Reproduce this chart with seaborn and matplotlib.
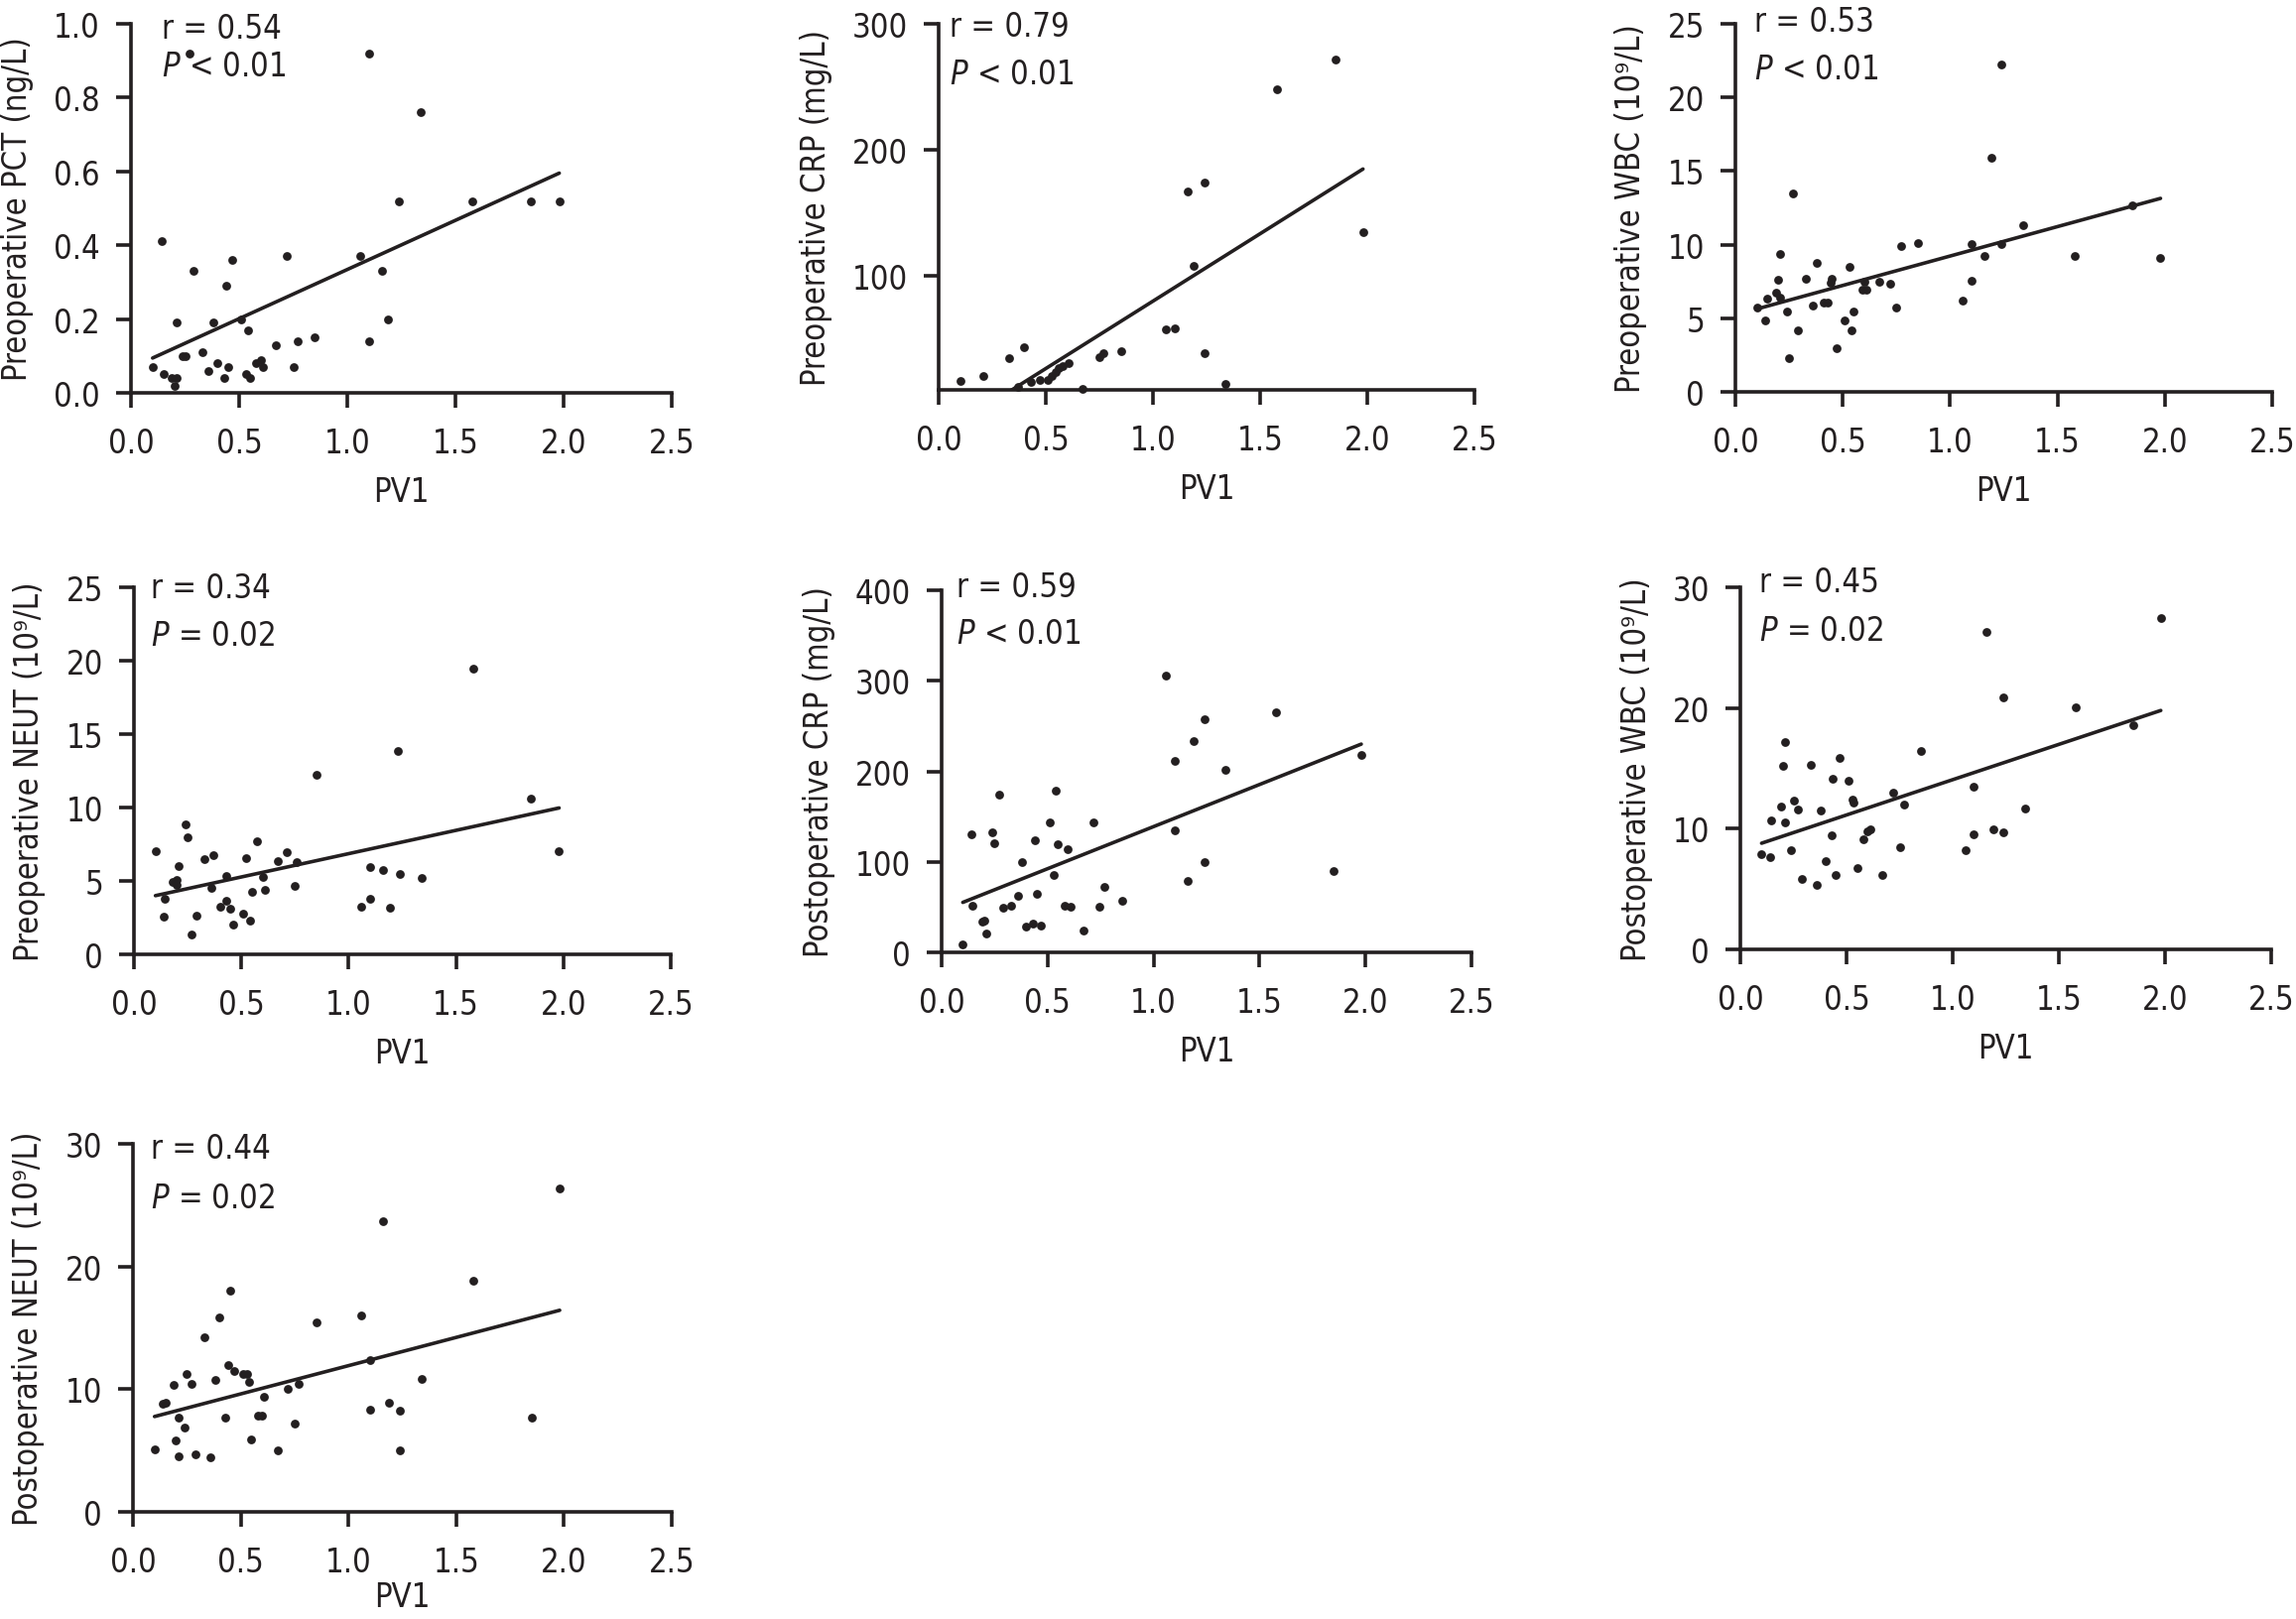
"""
Correlation of PV1 with pre-/postoperative inflammatory markers.
Seven scatter panels, each with its fitted line and r / P annotation.
"""
import matplotlib
matplotlib.use("Agg")  # no display
import matplotlib.pyplot as plt
from matplotlib import font_manager
import numpy as np
import seaborn as sns

# ---- values ----
PCT_PV1 = [0.10, 0.15, 0.14, 0.19, 0.21, 0.20, 0.21, 0.24, 0.25, 0.27, 0.29, 0.33, 0.36, 0.38,
           0.40, 0.43, 0.44, 0.45, 0.47, 0.51, 0.53, 0.54, 0.55, 0.58, 0.60, 0.61, 0.67, 0.72,
           0.75, 0.77, 0.85, 1.06, 1.10, 1.10, 1.16, 1.19, 1.24, 1.34, 1.58, 1.85, 1.98]
PCT_PRE = [0.07, 0.05, 0.41, 0.04, 0.04, 0.02, 0.19, 0.10, 0.10, 0.92, 0.33, 0.11, 0.06, 0.19,
           0.08, 0.04, 0.29, 0.07, 0.36, 0.20, 0.05, 0.17, 0.04, 0.08, 0.09, 0.07, 0.13, 0.37,
           0.07, 0.14, 0.15, 0.37, 0.92, 0.14, 0.33, 0.20, 0.52, 0.76, 0.52, 0.52, 0.52]

CRP_PRE_PV1 = [0.10, 0.21, 0.33, 0.37, 0.40, 0.43, 0.47, 0.51, 0.53, 0.545, 0.56, 0.58, 0.605,
               0.67, 0.75, 0.77, 0.85, 1.06, 1.10, 1.16, 1.19, 1.24, 1.24, 1.34, 1.58, 1.85, 1.98]
CRP_PRE = [17, 21, 35, 12, 44, 16, 18, 18, 21, 24, 27, 29, 31,
           10.5, 36, 39, 41, 58, 59, 167, 108, 174, 39, 15, 248, 272, 135]

WBC_PRE_PV1 = [0.10, 0.14, 0.15, 0.19, 0.20, 0.21, 0.21, 0.24, 0.25, 0.27, 0.29, 0.33, 0.36, 0.38,
               0.41, 0.43, 0.445, 0.45, 0.47, 0.51, 0.53, 0.54, 0.55, 0.59, 0.60, 0.61, 0.67, 0.72,
               0.75, 0.77, 0.85, 1.06, 1.10, 1.10, 1.16, 1.19, 1.24, 1.24, 1.34, 1.58, 1.85, 1.98]
WBC_PRE = [5.75, 4.85, 6.36, 6.74, 7.64, 9.37, 6.40, 5.46, 2.31, 13.48, 4.18, 7.66, 5.89, 8.74,
           6.04, 6.09, 7.42, 7.69, 2.94, 4.83, 8.49, 4.20, 5.46, 6.92, 7.48, 6.92, 7.46, 7.37,
           5.75, 9.91, 10.09, 6.20, 7.53, 10.02, 9.26, 15.87, 22.27, 10.07, 11.35, 9.24, 12.70, 9.08]

NEUT_PRE_PV1 = [0.10, 0.14, 0.145, 0.18, 0.20, 0.20, 0.21, 0.24, 0.25, 0.27, 0.29, 0.33, 0.36, 0.37,
                0.40, 0.43, 0.43, 0.45, 0.46, 0.51, 0.52, 0.54, 0.55, 0.575, 0.60, 0.61, 0.67, 0.71,
                0.75, 0.76, 0.85, 1.06, 1.10, 1.10, 1.16, 1.19, 1.23, 1.24, 1.34, 1.58, 1.85, 1.98]
NEUT_PRE = [7.04, 2.57, 3.76, 4.93, 5.10, 4.76, 6.0, 8.88, 7.99, 1.36, 2.65, 6.48, 4.54, 6.75,
            3.23, 3.62, 5.32, 3.11, 2.01, 2.77, 6.58, 2.28, 4.27, 7.67, 5.24, 4.39, 6.38, 6.97,
            4.64, 6.26, 12.21, 3.23, 5.95, 3.79, 5.75, 3.16, 13.83, 5.49, 5.17, 19.47, 10.58, 7.01]

CRP_POST_PV1 = [0.10, 0.14, 0.145, 0.19, 0.20, 0.21, 0.24, 0.25, 0.27, 0.29, 0.33, 0.36, 0.38, 0.40,
                0.43, 0.44, 0.45, 0.47, 0.51, 0.53, 0.54, 0.55, 0.58, 0.595, 0.61, 0.67, 0.715,
                0.745, 0.77, 0.85, 1.06, 1.10, 1.10, 1.16, 1.19, 1.24, 1.24, 1.34, 1.58, 1.85, 1.98]
CRP_POST = [9, 130, 52, 34, 35, 21, 133, 121, 174, 49, 52, 62, 100, 28,
            32, 124, 65, 30, 144, 85, 179, 119, 52, 114, 50, 24, 144,
            50, 72, 57, 306, 211, 135, 79, 233, 258, 100, 202, 265, 90, 218]

WBC_POST_PV1 = [0.10, 0.14, 0.145, 0.19, 0.20, 0.21, 0.21, 0.24, 0.25, 0.27, 0.29, 0.33, 0.36, 0.38,
                0.40, 0.43, 0.435, 0.45, 0.465, 0.51, 0.53, 0.535, 0.55, 0.58, 0.60, 0.61, 0.67, 0.72,
                0.75, 0.77, 0.85, 1.06, 1.10, 1.10, 1.16, 1.19, 1.24, 1.24, 1.34, 1.58, 1.85, 1.98]
WBC_POST = [7.91, 7.64, 10.68, 11.86, 15.19, 17.2, 10.5, 8.23, 12.36, 11.59, 5.84, 15.28, 5.34, 11.53,
            7.32, 9.44, 14.13, 6.19, 15.84, 13.98, 12.39, 12.15, 6.76, 9.14, 9.76, 9.97, 6.14, 13.0,
            8.47, 11.98, 16.43, 8.26, 9.56, 13.45, 26.28, 9.91, 20.86, 9.71, 11.68, 20.09, 18.58, 27.49]

NEUT_POST_PV1 = [0.10, 0.14, 0.15, 0.19, 0.20, 0.21, 0.21, 0.24, 0.25, 0.27, 0.29, 0.33, 0.36, 0.38,
                 0.40, 0.43, 0.44, 0.45, 0.47, 0.51, 0.53, 0.54, 0.55, 0.58, 0.60, 0.61, 0.67, 0.72,
                 0.75, 0.77, 0.85, 1.06, 1.10, 1.10, 1.16, 1.19, 1.24, 1.24, 1.34, 1.58, 1.85, 1.98]
NEUT_POST = [5.11, 8.85, 8.9, 10.34, 5.86, 7.66, 4.51, 6.91, 11.28, 10.45, 4.73, 14.21, 4.48, 10.75,
             15.81, 7.71, 11.97, 18.0, 11.47, 11.22, 11.22, 10.56, 5.89, 7.85, 7.85, 9.37, 5.03, 10.01,
             7.16, 10.45, 15.43, 16.04, 12.36, 8.29, 23.69, 8.87, 8.24, 4.98, 10.84, 18.83, 7.66, 26.35]

Y_LABELS = ["Preoperative PCT (ng/L)", "Preoperative CRP (mg/L)", "Preoperative WBC (10\u2079/L)",
            "Preoperative NEUT (10\u2079/L)", "Postoperative CRP (mg/L)",
            "Postoperative WBC (10\u2079/L)", "Postoperative NEUT (10\u2079/L)"]
R_VALUES = ["0.54", "0.79", "0.53", "0.34", "0.59", "0.45", "0.44"]
P_VALUES = ["< 0.01", "< 0.01", "< 0.01", "= 0.02", "< 0.01", "= 0.02", "= 0.02"]
Y_TICKS = [[0.0, 0.2, 0.4, 0.6, 0.8, 1.0], [100, 200, 300], [0, 5, 10, 15, 20, 25],
           [0, 5, 10, 15, 20, 25], [0, 100, 200, 300, 400], [0, 10, 20, 30], [0, 10, 20, 30]]
Y_LIMS = [(0, 1.0), (10, 300), (0, 25), (0, 25), (0, 400), (0, 30), (0, 30)]
X_TICKS = [0.0, 0.5, 1.0, 1.5, 2.0, 2.5]
# fitted lines
FIT_INTERCEPT = [0.0677, -26.5, 5.23, 3.68, 45.9, 8.21, 7.31]
FIT_SLOPE = [0.2665, 106.8, 3.996, 3.177, 93.0, 5.85, 4.607]

# ---- layout (pixels on the 2314 x 1633 canvas) ----
W, H = 2314, 1633
AX_BOX = [(132, 25, 677, 397), (946, 25, 1486, 394), (1749, 25, 2290, 396),
          (135, 593, 676, 963), (949, 596, 1483, 961), (1754, 593, 2289, 958),
          (134, 1154, 677, 1525)]
ANNOT_DX = [31, 11, 19, 17, 15, 19, 18]       # px right of y axis
ANNOT_R_DY = [14, 12, 7, 10, 6, 4, 14]        # px below axes top (baseline)
ANNOT_P_DY = [52, 60, 55, 58, 53, 53, 64]
XLABEL_PAD = [16, 16, 16, 16, 16, 16, 2]       # px, bottom row sits tighter

INK = "#231f20"
PX = 0.72  # px -> pt at dpi 100

sns.set_theme(style="ticks")
condensed = [f for f in font_manager.fontManager.ttflist
             if f.name == "DejaVu Sans" and f.stretch == "condensed"]
plt.rcParams["font.family"] = ["DejaVu Sans"]
if condensed:
    plt.rcParams["font.stretch"] = "condensed"
    FS = 23.5
else:
    FS = 22
plt.rcParams["mathtext.fontset"] = "dejavusans"
plt.rcParams["text.color"] = INK
plt.rcParams["axes.labelcolor"] = INK

PANELS = [(PCT_PV1, PCT_PRE), (CRP_PRE_PV1, CRP_PRE), (WBC_PRE_PV1, WBC_PRE),
          (NEUT_PRE_PV1, NEUT_PRE), (CRP_POST_PV1, CRP_POST), (WBC_POST_PV1, WBC_POST),
          (NEUT_POST_PV1, NEUT_POST)]


def main():
    fig = plt.figure(figsize=(W / 100, H / 100), dpi=100)
    for i, (xs, ys) in enumerate(PANELS):
        l, t, r, b = AX_BOX[i]
        ax = fig.add_axes([l / W, 1 - b / H, (r - l) / W, (b - t) / H])

        sns.scatterplot(x=xs, y=ys, ax=ax, color=INK, s=40, linewidth=0,
                        zorder=3, clip_on=False)
        fx = np.array([min(xs), max(xs)])
        sns.lineplot(x=fx, y=FIT_INTERCEPT[i] + FIT_SLOPE[i] * fx, ax=ax,
                     color=INK, linewidth=2.6)

        ax.set_xlim(0, 2.5)
        ax.set_ylim(*Y_LIMS[i])
        ax.set_xticks(X_TICKS)
        ax.set_xticklabels([f"{v:.1f}" for v in X_TICKS])
        ax.set_yticks(Y_TICKS[i])
        if i == 0:
            ax.set_yticklabels([f"{v:.1f}" for v in Y_TICKS[i]])
        sns.despine(ax=ax)
        for side in ("left", "bottom"):
            ax.spines[side].set_linewidth(2.6)
            ax.spines[side].set_color(INK)
        ax.tick_params(axis="both", direction="out", length=15 * PX, width=2.6,
                       color=INK, labelcolor=INK, labelsize=FS)
        ax.tick_params(axis="y", pad=16 * PX)
        ax.tick_params(axis="x", pad=19 * PX)
        ax.set_xlabel("PV1", fontsize=FS, labelpad=XLABEL_PAD[i] * PX)
        ax.set_ylabel(Y_LABELS[i], fontsize=FS, labelpad=20 * PX)

        ax.annotate(f"r = {R_VALUES[i]}", xy=(0, 1), xycoords="axes fraction",
                    xytext=(ANNOT_DX[i] * PX, -ANNOT_R_DY[i] * PX), textcoords="offset points",
                    ha="left", va="baseline", fontsize=FS)
        ax.annotate(r"$\mathit{P}$ " + P_VALUES[i], xy=(0, 1), xycoords="axes fraction",
                    xytext=(ANNOT_DX[i] * PX, -ANNOT_P_DY[i] * PX), textcoords="offset points",
                    ha="left", va="baseline", fontsize=FS)

    fig.savefig("out.png", dpi=100, facecolor="white")
    plt.close(fig)


if __name__ == "__main__":
    main()
